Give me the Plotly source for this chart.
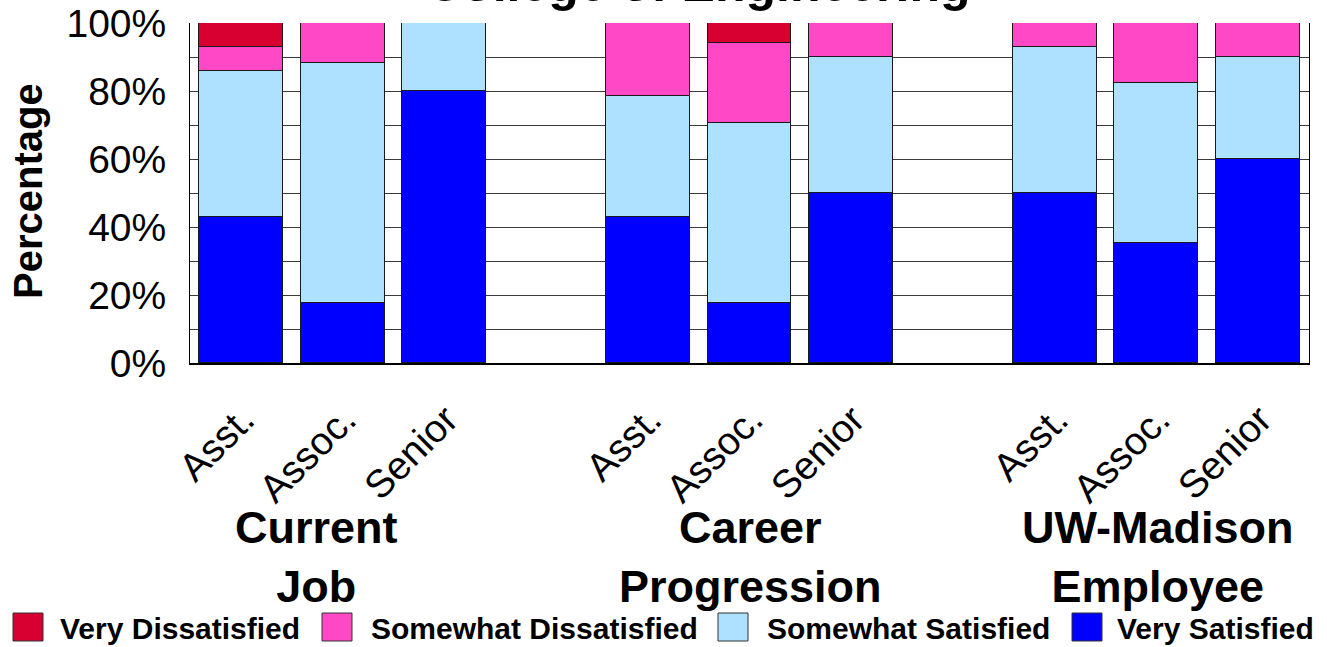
import plotly.graph_objects as go

# Survey groups and ranks
groups = ["Current<br>Job", "Career<br>Progression", "UW-Madison<br>Employee"]
ranks = ["Asst.", "Assoc.", "Senior"]

# Response categories, bottom of the stack first
responses = ["Very Satisfied", "Somewhat Satisfied", "Somewhat Dissatisfied", "Very Dissatisfied"]
colors = ["#0000FF", "#AEE0FF", "#FF48C6", "#D80030"]

# Percent of respondents, ordered group by group, Asst./Assoc./Senior within each
very_satisfied = [42.9, 17.6, 80.0, 42.9, 17.6, 50.0, 50.0, 35.3, 60.0]
somewhat_satisfied = [42.9, 70.6, 20.0, 35.7, 52.9, 40.0, 42.9, 47.1, 30.0]
somewhat_dissatisfied = [7.1, 11.8, None, 21.4, 23.5, 10.0, 7.1, 17.6, 10.0]
very_dissatisfied = [7.1, None, None, None, 6.0, None, None, None, None]

series = [very_satisfied, somewhat_satisfied, somewhat_dissatisfied, very_dissatisfied]

# Bar slots: one empty slot between groups
slot = []
labels = []
for g in range(len(groups)):
    for r, name in enumerate(ranks):
        slot.append(g * (len(ranks) + 1) + r)
        labels.append(name)

FONT = "Liberation Sans, Arial, sans-serif"

fig = go.Figure()
for name, vals, col in zip(responses, series, colors):
    fig.add_trace(go.Bar(
        x=slot, y=vals, name=name, width=0.825,
        marker=dict(color=col, line=dict(color="#1a1a1a", width=1)),
        showlegend=False,
    ))

W, H = 1327, 647
L, R, T, B = 190, 18, 23, 284
PW, PH = W - L - R, H - T - B


def px_x(px):
    return (px - L) / PW


def px_y(py):
    return (H - B - py) / PH


annotations = []
# Title (partly above the page edge)
annotations.append(dict(text="<b>College of Engineering</b>", x=px_x(698), y=px_y(-16),
                        xref="paper", yref="paper", showarrow=False,
                        xanchor="center", yanchor="middle",
                        font=dict(family=FONT, size=50, color="black")))
# Y axis title
annotations.append(dict(text="<b>Percentage</b>", x=px_x(28), y=px_y(191),
                        xref="paper", yref="paper", showarrow=False, textangle=-90,
                        xanchor="center", yanchor="middle",
                        font=dict(family=FONT, size=40, color="black")))
# Group labels
group_px = [316, 750, 1158]
for g, gx in zip(groups, group_px):
    annotations.append(dict(text="<b>" + g + "</b>", x=px_x(gx), y=px_y(557),
                            xref="paper", yref="paper", showarrow=False,
                            xanchor="center", yanchor="middle",
                            font=dict(family=FONT, size=45, color="black")))

# Legend drawn as swatches plus labels
shapes = []
swatch_px = [13, 322, 718, 1072]
text_px = [58, 369, 765, 1115]
legend_order = [3, 2, 1, 0]
for sx, tx, i in zip(swatch_px, text_px, legend_order):
    shapes.append(dict(type="rect", xref="paper", yref="paper",
                       x0=px_x(sx), x1=px_x(sx + 30), y0=px_y(641), y1=px_y(613),
                       fillcolor=colors[i], line=dict(color="#333", width=1)))
    annotations.append(dict(text="<b>" + responses[i] + "</b>", x=px_x(tx), y=px_y(628),
                            xref="paper", yref="paper", showarrow=False,
                            xanchor="left", yanchor="middle",
                            font=dict(family=FONT, size=30, color="black")))

fig.update_layout(
    width=W, height=H,
    margin=dict(l=L, r=R, t=T, b=B, pad=0, autoexpand=False),
    barmode="stack",
    bargap=0,
    plot_bgcolor="white",
    paper_bgcolor="white",
    font=dict(family=FONT, color="black"),
    annotations=annotations,
    shapes=shapes,
    showlegend=False,
)
fig.update_xaxes(
    range=[-0.5, len(slot) + 1.5], automargin=False,
    tickmode="array", tickvals=slot, ticktext=labels,
    tickangle=-45, tickfont=dict(family=FONT, size=39, color="black"),
    ticks="", showgrid=False, zeroline=False,
    showline=True, linecolor="black", linewidth=2, mirror=False,
    ticklabelstandoff=16, ticklabelshift=2,
)
fig.update_yaxes(
    range=[0, 100], dtick=20, ticksuffix="%", automargin=False,
    tickfont=dict(family=FONT, size=39, color="black"),
    showgrid=True, gridcolor="#3a3a3a", gridwidth=1,
    minor=dict(dtick=10, showgrid=True, gridcolor="#3a3a3a", gridwidth=1),
    zeroline=False, showline=True, linecolor="black", linewidth=1, mirror=True,
    ticks="", ticklabelstandoff=15,
)

fig.write_html("out.html")
